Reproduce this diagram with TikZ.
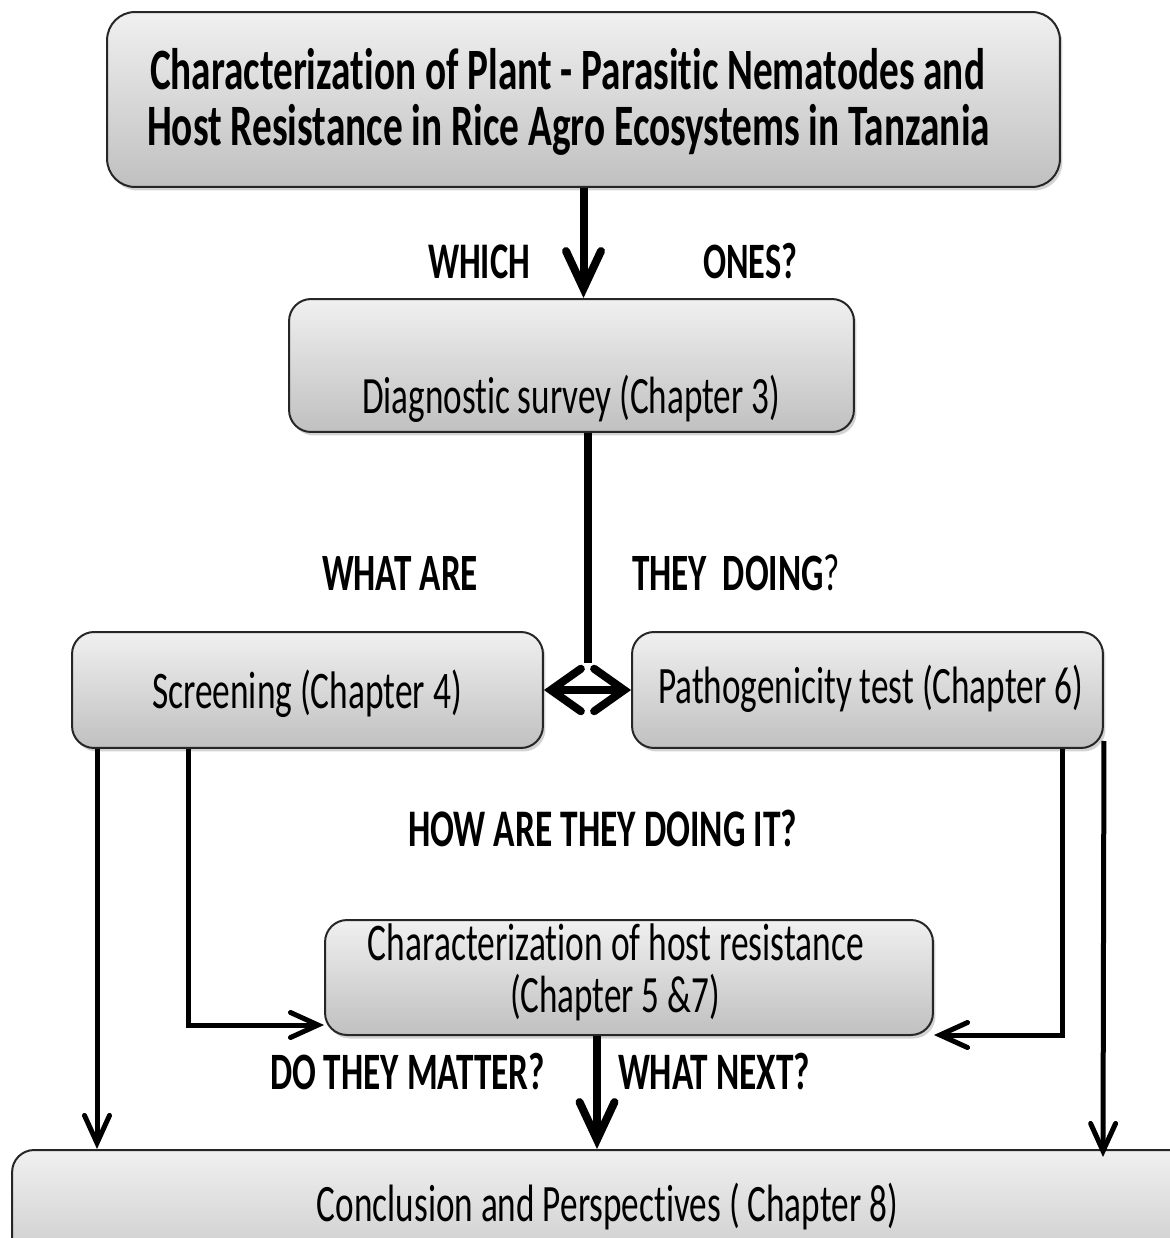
\documentclass[tikz,border=0pt]{standalone}
\usepackage{fontspec}
\setmainfont{Carlito}[FakeStretch=0.67,Ligatures=NoCommon]
\usetikzlibrary{arrows.meta,shadows,calc}
\definecolor{boxtop}{RGB}{240,240,240}
\definecolor{boxbot}{RGB}{192,192,192}
\newcommand\fitw[2]{\resizebox{#1}{!}{#2}}
\tikzset{
  box/.style={draw=black!85, line width=0.04cm, rounded corners=0.44cm,
    top color=boxtop, bottom color=boxbot,
    drop shadow={shadow xshift=0.05cm, shadow yshift=-0.07cm, opacity=0.35},
    inner sep=0pt},
  txt/.style={anchor=base, inner sep=0pt},
  thickln/.style={line width=0.16cm},
  thickarr/.style={line width=0.16cm, -{Straight Barb[length=0.75cm,width=0.7cm,line cap=round]}},
  dblarr/.style={line width=0.16cm, {Straight Barb[length=0.6cm,width=0.85cm,line cap=round]}-{Straight Barb[length=0.6cm,width=0.85cm,line cap=round]}},
  thinarr/.style={line width=0.1cm, -{Straight Barb[length=0.55cm,width=0.5cm,line cap=round]}},
}
\begin{document}
\begin{tikzpicture}[x=0.02cm,y=0.02cm]
\useasboundingbox (0,0) rectangle (1170,-1238);
\clip (0,0) rectangle (1170,-1238);

% boxes
\node[box, minimum width=19.06cm, minimum height=3.5cm, rounded corners=0.56cm] (top) at (583.5,-99.5) {};
\node[box, minimum width=11.3cm, minimum height=2.66cm] (diag) at (571.5,-365.5) {};
\node[box, minimum width=9.42cm, minimum height=2.32cm] (screen) at (307.5,-690) {};
\node[box, minimum width=9.42cm, minimum height=2.32cm] (patho) at (867.5,-690) {};
\node[box, minimum width=12.16cm, minimum height=2.3cm] (charh) at (629,-977.5) {};
\node[box, minimum width=24.16cm, minimum height=3cm] (concl) at (616,-1225) {};

% box texts
\node[txt] (t1) at (567.5,-89) {\fitw{16.7cm}{\bfseries Characterization of Plant - Parasitic Nematodes and}};
\node[txt] (t2) at (568.5,-145) {\fitw{16.86cm}{\bfseries Host Resistance in Rice Agro Ecosystems in Tanzania}};
\node[txt] (diagT) at (571,-413) {\fitw{8.36cm}{Diagnostic survey (Chapter 3)}};
\node[txt] (screenT) at (307,-708) {\fitw{6.2cm}{Screening (Chapter 4)}};
\node[txt] (pathoT) at (870.5,-703) {\fitw{8.5cm}{Pathogenicity test (Chapter 6)}};
\node[txt] (charT1) at (616,-960) {\fitw{9.92cm}{Characterization of host resistance}};
\node[txt] (charT2) at (615,-1012) {\fitw{4.2cm}{(Chapter 5 \&7)}};
\node[txt] (conclT) at (607.5,-1221) {\fitw{11.62cm}{Conclusion and Perspectives ( Chapter 8)}};

% question labels
\node[txt] (q1) at (479,-278) {\fitw{2.04cm}{\bfseries WHICH}};
\node[txt] (q2) at (750,-278) {\fitw{1.88cm}{\bfseries ONES?}};
\node[txt] (q3) at (400,-590) {\fitw{3.12cm}{\bfseries WHAT ARE}};
\node[txt] (q4) at (736,-590) {\fitw{4.16cm}{\textbf{THEY\ \ DOING}?}};
\node[txt] (q5) at (602.5,-846) {\fitw{7.78cm}{\bfseries HOW ARE THEY DOING IT?}};
\node[txt] (q6) at (407.5,-1089) {\fitw{5.5cm}{\bfseries DO THEY MATTER?}};
\node[txt] (q7) at (714,-1089) {\fitw{3.84cm}{\bfseries WHAT NEXT?}};

% connectors
\coordinate (j) at (588,-663);
\coordinate (xa) at (97,0);
\coordinate (c1) at (188,-1025);
\coordinate (c2) at (1062,-1035);
\coordinate (c3) at (1103,-1157);
\coordinate (c4) at (597,0);

\draw[thickarr] (top.south) -- (top.south |- diag.north);
\draw[thickln] (diag.south -| j) -- (j);
\draw[dblarr] (screen.east) -- (patho.west);
\draw[thinarr] (screen.south -| xa) -- (concl.north -| xa);
\draw[thinarr] (screen.south -| c1) |- (c1 -| charh.west);
\draw[thinarr] (patho.south -| c2) |- (c2 -| charh.east);
\draw[thinarr] ($(patho.south east)+(0,8)$) -- (c3);
\draw[thickarr] (c4 |- charh.south) -- (c4 |- concl.north);
\end{tikzpicture}
\end{document}
